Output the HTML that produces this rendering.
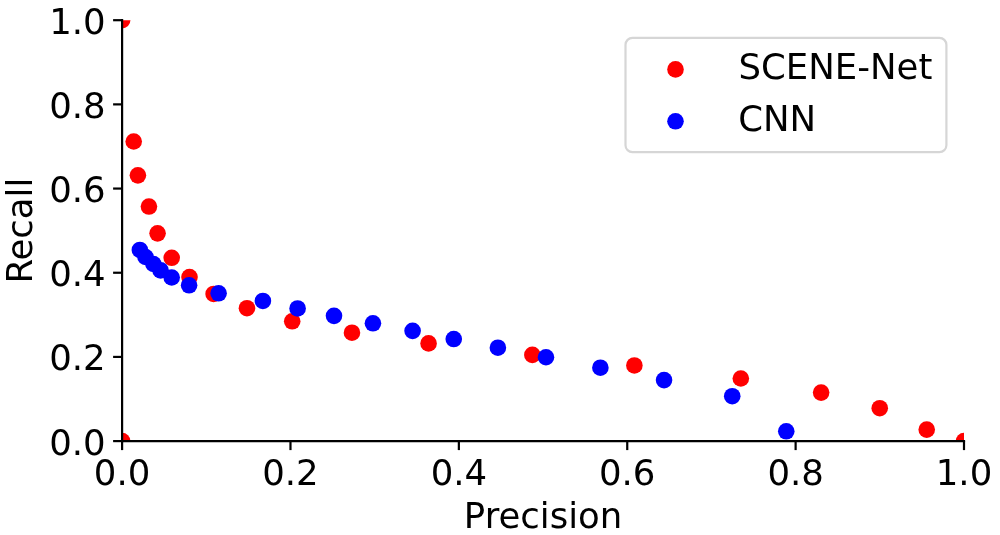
<!DOCTYPE html>
<html><head><meta charset="utf-8"><title>Precision-Recall</title>
<style>
html,body{margin:0;padding:0;background:#fff;}
body{width:1000px;height:535px;overflow:hidden;}
svg{display:block;will-change:transform;}
text{font-family:"DejaVu Sans","Liberation Sans",sans-serif;font-size:35.5px;fill:#000;}
</style></head>
<body>
<svg width="1000" height="535" viewBox="0 0 1000 535">
<rect width="1000" height="535" fill="#fff"/>
<clipPath id="ax"><rect x="122.1" y="20.2" width="841.90" height="420.90"/></clipPath>
<g clip-path="url(#ax)">
<circle cx="122.10" cy="20.20" r="8.3" fill="#ff0000"/>
<circle cx="133.70" cy="141.50" r="8.3" fill="#ff0000"/>
<circle cx="137.90" cy="175.35" r="8.3" fill="#ff0000"/>
<circle cx="148.94" cy="206.54" r="8.3" fill="#ff0000"/>
<circle cx="157.57" cy="233.34" r="8.3" fill="#ff0000"/>
<circle cx="171.70" cy="257.80" r="8.3" fill="#ff0000"/>
<circle cx="189.50" cy="277.10" r="8.3" fill="#ff0000"/>
<circle cx="213.60" cy="293.95" r="8.3" fill="#ff0000"/>
<circle cx="246.97" cy="308.20" r="8.3" fill="#ff0000"/>
<circle cx="292.20" cy="321.30" r="8.3" fill="#ff0000"/>
<circle cx="351.97" cy="332.70" r="8.3" fill="#ff0000"/>
<circle cx="428.58" cy="343.40" r="8.3" fill="#ff0000"/>
<circle cx="532.36" cy="354.90" r="8.3" fill="#ff0000"/>
<circle cx="634.39" cy="365.45" r="8.3" fill="#ff0000"/>
<circle cx="740.82" cy="378.50" r="8.3" fill="#ff0000"/>
<circle cx="821.13" cy="392.60" r="8.3" fill="#ff0000"/>
<circle cx="879.74" cy="408.22" r="8.3" fill="#ff0000"/>
<circle cx="926.72" cy="429.58" r="8.3" fill="#ff0000"/>
<circle cx="964.00" cy="441.10" r="8.3" fill="#ff0000"/>
<circle cx="122.10" cy="441.10" r="8.3" fill="#ff0000"/>
<circle cx="139.85" cy="249.98" r="8.3" fill="#0000ff"/>
<circle cx="145.50" cy="257.00" r="8.3" fill="#0000ff"/>
<circle cx="153.40" cy="264.00" r="8.3" fill="#0000ff"/>
<circle cx="160.60" cy="270.40" r="8.3" fill="#0000ff"/>
<circle cx="171.70" cy="277.50" r="8.3" fill="#0000ff"/>
<circle cx="189.10" cy="285.30" r="8.3" fill="#0000ff"/>
<circle cx="218.60" cy="293.30" r="8.3" fill="#0000ff"/>
<circle cx="262.90" cy="300.96" r="8.3" fill="#0000ff"/>
<circle cx="297.60" cy="308.45" r="8.3" fill="#0000ff"/>
<circle cx="334.00" cy="315.86" r="8.3" fill="#0000ff"/>
<circle cx="372.94" cy="323.30" r="8.3" fill="#0000ff"/>
<circle cx="412.60" cy="330.86" r="8.3" fill="#0000ff"/>
<circle cx="453.76" cy="339.04" r="8.3" fill="#0000ff"/>
<circle cx="497.90" cy="347.70" r="8.3" fill="#0000ff"/>
<circle cx="545.98" cy="357.25" r="8.3" fill="#0000ff"/>
<circle cx="600.37" cy="367.70" r="8.3" fill="#0000ff"/>
<circle cx="664.05" cy="380.09" r="8.3" fill="#0000ff"/>
<circle cx="732.24" cy="396.22" r="8.3" fill="#0000ff"/>
<circle cx="786.26" cy="431.30" r="8.3" fill="#0000ff"/>
</g>
<path d="M122.1 442.20000000000005 V19.099999999999998" stroke="#000" stroke-width="2.2" fill="none"/>
<path d="M121.0 441.1 H965.1" stroke="#000" stroke-width="2.2" fill="none"/>
<path d="M113.10 441.10 H122.10" stroke="#000" stroke-width="2.2"/>
<path d="M122.10 441.10 V450.10" stroke="#000" stroke-width="2.2"/>
<text x="105.6" y="454.50" text-anchor="end">0.0</text>
<text x="122.10" y="484.9" text-anchor="middle">0.0</text>
<path d="M113.10 356.92 H122.10" stroke="#000" stroke-width="2.2"/>
<path d="M290.48 441.10 V450.10" stroke="#000" stroke-width="2.2"/>
<text x="105.6" y="370.32" text-anchor="end">0.2</text>
<text x="290.48" y="484.9" text-anchor="middle">0.2</text>
<path d="M113.10 272.74 H122.10" stroke="#000" stroke-width="2.2"/>
<path d="M458.86 441.10 V450.10" stroke="#000" stroke-width="2.2"/>
<text x="105.6" y="286.14" text-anchor="end">0.4</text>
<text x="458.86" y="484.9" text-anchor="middle">0.4</text>
<path d="M113.10 188.56 H122.10" stroke="#000" stroke-width="2.2"/>
<path d="M627.24 441.10 V450.10" stroke="#000" stroke-width="2.2"/>
<text x="105.6" y="201.96" text-anchor="end">0.6</text>
<text x="627.24" y="484.9" text-anchor="middle">0.6</text>
<path d="M113.10 104.38 H122.10" stroke="#000" stroke-width="2.2"/>
<path d="M795.62 441.10 V450.10" stroke="#000" stroke-width="2.2"/>
<text x="105.6" y="117.78" text-anchor="end">0.8</text>
<text x="795.62" y="484.9" text-anchor="middle">0.8</text>
<path d="M113.10 20.20 H122.10" stroke="#000" stroke-width="2.2"/>
<path d="M964.00 441.10 V450.10" stroke="#000" stroke-width="2.2"/>
<text x="105.6" y="33.60" text-anchor="end">1.0</text>
<text x="964.00" y="484.9" text-anchor="middle">1.0</text>
<text x="543.05" y="528.4" text-anchor="middle">Precision</text>
<text transform="translate(31.9 230.65) rotate(-90)" text-anchor="middle">Recall</text>
<rect x="625.5" y="37.8" width="320.90" height="114.40" rx="7" ry="7" fill="#fff" fill-opacity="0.8" stroke="#d6d6d6" stroke-width="2.2"/>
<circle cx="675.5" cy="69.4" r="8.3" fill="#ff0000"/>
<circle cx="675.5" cy="121.3" r="8.3" fill="#0000ff"/>
<text x="738.5" y="79">SCENE-Net</text>
<text x="738.2" y="131">CNN</text>
</svg>
</body></html>
